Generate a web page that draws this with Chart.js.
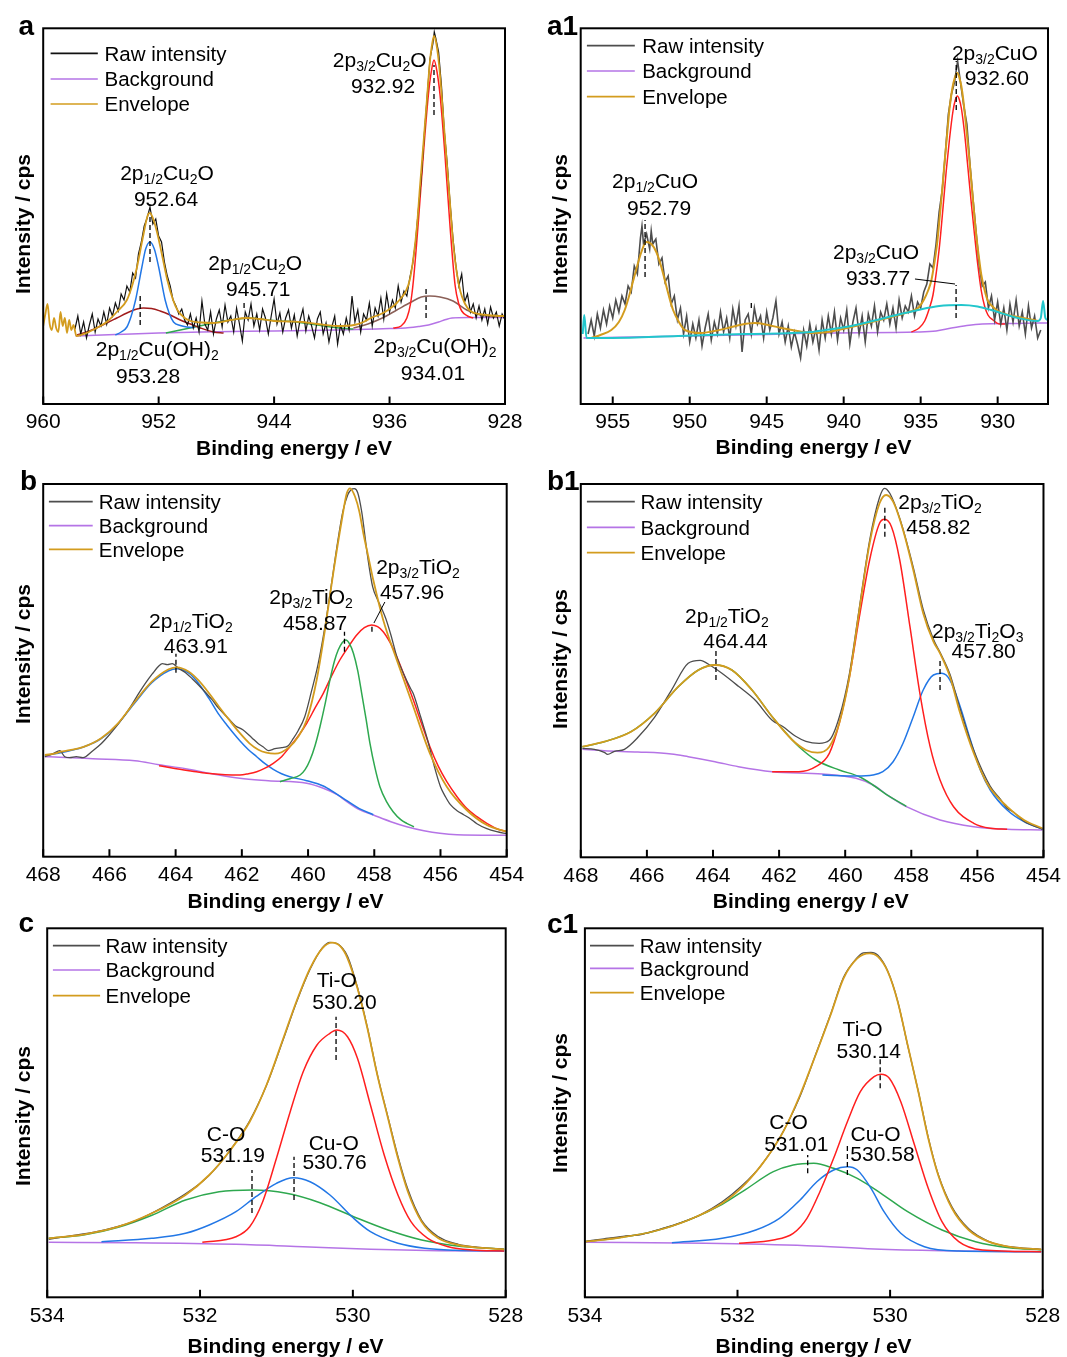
<!DOCTYPE html>
<html><head><meta charset="utf-8">
<script src="https://cdn.jsdelivr.net/npm/chart.js@4.4.1/dist/chart.umd.min.js"></script>
<style>
html,body{margin:0;padding:0;background:#fff;}
body{width:1067px;height:1357px;position:relative;overflow:hidden;}
canvas{position:absolute;}
</style></head><body>
<script>
// ---------- texts ----------
const legendLabels = ["Raw intensity", "Background", "Envelope"];
const xTitle = "Binding energy / eV";
const yTitle = "Intensity / cps";

// ---------- tick labels ----------
const aTicks = [960, 952, 944, 936, 928];
const a1Ticks = [955, 950, 945, 940, 935, 930];
const bTicks = [468, 466, 464, 462, 460, 458, 456, 454];
const cTicks = [534, 532, 530, 528];

// ---------- panel a : Cu 2p ----------
const aRaw = [[957.8,75],[957.6,88],[957.4,70],[957.2,82],[957.0,66],[956.8,79],[956.6,90],[956.4,72],[956.2,85],[956.0,78],[955.8,92],[955.6,80],[955.4,96],[955.2,88],[955.0,101],[954.8,93],[954.6,110],[954.4,104],[954.2,118],[954.0,112],[953.8,131],[953.6,126],[953.4,150],[953.2,162],[953.0,178],[952.8,186],[952.6,197],[952.4,180],[952.2,185],[952.0,168],[951.8,162],[951.6,142],[951.4,128],[951.2,118],[951.0,104],[950.8,98],[950.6,90],[950.4,95],[950.2,84],[950.0,79],[949.8,90],[949.6,76],[949.4,86],[949.2,72],[949.0,103],[948.8,80],[948.6,74],[948.4,92],[948.2,70],[948.0,85],[947.8,94],[947.6,77],[947.4,99],[947.2,82],[947.0,88],[946.8,72],[946.6,96],[946.4,80],[946.2,63],[946.0,92],[945.8,84],[945.6,100],[945.4,78],[945.2,90],[945.0,74],[944.8,95],[944.6,86],[944.4,70],[944.2,88],[944.0,105],[943.8,80],[943.6,91],[943.4,72],[943.2,86],[943.0,94],[942.8,76],[942.6,89],[942.4,68],[942.2,84],[942.0,95],[941.8,73],[941.6,88],[941.4,78],[941.2,66],[941.0,85],[940.8,92],[940.6,70],[940.4,81],[940.2,62],[940.0,77],[939.8,88],[939.6,60],[939.4,79],[939.2,70],[939.0,86],[938.8,74],[938.6,108],[938.4,82],[938.2,94],[938.0,72],[937.8,90],[937.6,84],[937.4,101],[937.2,78],[937.0,96],[936.8,88],[936.6,106],[936.4,85],[936.2,110],[936.0,92],[935.8,104],[935.6,96],[935.4,118],[935.2,102],[935.0,113],[934.8,108],[934.6,126],[934.4,140],[934.2,162],[934.0,195],[933.8,226],[933.6,268],[933.4,306],[933.2,345],[933.0,360],[932.9,372],[932.8,366],[932.6,352],[932.4,318],[932.2,272],[932.0,240],[931.8,200],[931.6,165],[931.4,138],[931.2,118],[931.0,130],[930.8,102],[930.6,110],[930.4,92],[930.2,100],[930.0,86],[929.8,98],[929.6,84],[929.4,95],[929.2,80],[929.0,97],[928.8,86],[928.6,92],[928.4,78],[928.2,90],[928.0,84]];
const aBackground = [[957.75,68],[955,69.5],[952,71],[949,72],[944,73],[939.6,74],[936,75.5],[934.9,76],[934,77.5],[933.3,79],[932.6,82],[932.1,84.5],[931.67,86],[930.5,86.5],[928,86.5]];
const aEnvelope = [[960,78],[959.85,90],[959.7,100],[959.55,80],[959.4,74],[959.25,86],[959.1,76],[958.95,72],[958.8,92],[958.65,78],[958.5,86],[958.35,71],[958.2,84],[958.05,74],[957.9,79],[957.7,68],[957,71],[956.3,76],[955.6,82],[954.9,92],[954.2,104],[953.8,120],[953.5,137],[953.1,166],[952.75,189],[952.6,191],[952.4,186],[952.1,171],[951.75,148],[951.4,124],[951,104],[950.7,94],[950.2,86],[949.8,83],[949,81.5],[948.2,81],[947,84],[945.9,86],[945,85],[944,83],[943,82.5],[942,82],[941,80],[939.6,78],[938.45,79],[937.8,82],[937.3,86],[936.6,90],[936.1,94],[935.5,101],[935.2,106],[934.9,112],[934.6,124],[934.35,146],[934.1,178],[933.9,216],[933.66,259],[933.42,303],[933.2,343],[933.05,360],[932.92,368],[932.78,362],[932.62,346],[932.45,320],[932.27,286],[932.04,243],[931.8,199],[931.58,159],[931.35,132],[931.1,113],[930.8,101],[930.4,93],[929.8,90],[929.27,89],[928.2,88],[928,88]];
const aCu2O32 = [[935.74,76],[935.2,78],[934.8,86],[934.55,100],[934.35,123],[934.0,183],[933.66,249],[933.31,309],[933.1,333],[932.92,344],[932.72,333],[932.5,309],[932.16,249],[931.8,176],[931.46,119],[931.2,100],[931.0,93],[930.6,88],[930.2,86]];
const aCuOH32 = [[938.5,76],[937.5,80],[936.5,86],[935.5,94],[934.5,102],[933.8,107],[933.2,108],[932.5,107],[931.6,103],[930.65,94],[929.7,89],[929,87.5],[928.5,87]];
const aCu2O12 = [[955.0,69],[954.6,72],[954.2,77],[953.9,88],[953.6,104],[953.16,137],[952.9,155],[952.6,162],[952.3,155],[952.0,137],[951.55,104],[951.25,90],[950.97,82],[950.5,78.5],[950.05,77],[949.5,76.5]];
const aCuOH12 = [[957.67,69],[956.8,73],[955.6,81],[954.9,86],[954.2,91],[953.5,95],[953.05,96],[952.5,95.5],[951.9,93],[951.2,89],[950.5,84],[949.8,80],[949.1,76],[948.2,72],[947.5,71]];
const aSat = [[951.5,71],[950.5,74],[949.5,77],[948.5,80],[947.5,83],[946.5,85],[945.7,86],[944.5,84],[943.5,83],[942.5,82],[941.5,80],[940.5,78],[939.5,76],[938.5,75]];

// ---------- panel a1 : Cu 2p ----------
const a1Raw = [[956.6,70],[956.4,84],[956.2,68],[956.0,90],[955.8,76],[955.6,94],[955.4,80],[955.2,98],[955.0,86],[954.8,104],[954.6,92],[954.4,108],[954.2,100],[954.0,118],[953.8,112],[953.6,138],[953.4,130],[953.2,166],[953.1,178],[953.0,160],[952.8,170],[952.6,155],[952.5,173],[952.4,160],[952.2,165],[952.0,140],[951.8,146],[951.6,122],[951.4,128],[951.2,100],[951.0,108],[950.8,84],[950.6,96],[950.4,70],[950.2,88],[950.0,62],[949.8,80],[949.6,66],[949.4,84],[949.2,58],[949.0,76],[948.8,90],[948.6,64],[948.4,82],[948.2,70],[948.0,92],[947.8,72],[947.6,86],[947.4,66],[947.2,95],[947.0,78],[946.8,98],[946.6,52],[946.4,84],[946.2,90],[946.0,70],[945.8,96],[945.6,80],[945.4,88],[945.2,66],[945.0,92],[944.8,74],[944.6,86],[944.4,103],[944.2,70],[944.0,82],[943.8,62],[943.6,78],[943.4,57],[943.2,72],[943.0,60],[942.8,46],[942.6,74],[942.4,58],[942.2,80],[942.0,62],[941.8,76],[941.6,54],[941.4,84],[941.2,66],[941.0,88],[940.8,70],[940.6,92],[940.4,64],[940.2,86],[940.0,74],[939.8,94],[939.6,60],[939.4,82],[939.2,96],[939.0,70],[938.8,88],[938.6,62],[938.4,90],[938.2,78],[938.0,98],[937.8,72],[937.6,92],[937.4,84],[937.2,100],[937.0,80],[936.8,96],[936.6,76],[936.4,104],[936.2,86],[936.0,98],[935.8,92],[935.6,108],[935.4,88],[935.2,102],[935.0,96],[934.8,112],[934.6,120],[934.4,140],[934.2,136],[934.0,160],[933.8,192],[933.6,214],[933.4,250],[933.2,290],[933.0,310],[932.8,322],[932.6,343],[932.4,320],[932.2,298],[932.0,280],[931.8,240],[931.6,205],[931.4,172],[931.2,140],[931.0,118],[930.8,122],[930.6,96],[930.4,108],[930.2,84],[930.0,102],[929.8,80],[929.6,96],[929.4,74],[929.2,100],[929.0,82],[928.8,104],[928.6,78],[928.4,92],[928.2,70],[928.0,98],[927.8,76],[927.6,88],[927.4,66],[927.2,74]];
const a1Background = [[956.9,66],[950,68],[945,69.5],[941.5,71],[935.2,72],[934,73],[933,76],[932,78.5],[931,80],[929,80.5],[927.4,81],[926.75,81]];
const a1Envelope = [[956.39,66],[955.8,69],[955.09,74],[954.6,82],[954.22,94],[953.9,110],[953.57,129],[953.14,152],[952.82,162],[952.49,160],[952.17,152],[951.9,140],[951.62,124],[951.35,108],[951.08,94],[950.7,82],[950.32,74],[949.25,71],[948.4,73],[947.51,76],[946.6,79.5],[945.78,81],[944.9,79],[944.05,76],[943,73],[942.1,71],[941,72],[939.5,77],[937.3,85.5],[936,91],[935.17,96],[934.8,104],[934.53,113],[934.3,124],[934.09,143],[933.92,162],[933.77,186],[933.6,214],[933.44,243],[933.28,270],[933.12,296],[932.95,315],[932.79,326],[932.62,331],[932.5,327],[932.36,318],[932.2,300],[932.04,276],[931.87,250],[931.71,223],[931.55,195],[931.39,169],[931.22,147],[931.06,129],[930.85,114],[930.63,103],[930.3,97],[929.98,93],[929.3,89],[928.68,87],[928,85],[927.38,83]];
const a1CuO32 = [[935.6,72],[935.1,76],[934.74,83],[934.45,95],[934.2,109],[933.98,132],[933.77,159],[933.55,196],[933.34,233],[933.12,266],[932.9,293],[932.75,304],[932.62,308],[932.48,304],[932.36,296],[932.15,271],[931.93,236],[931.72,202],[931.5,169],[931.28,138],[931.06,113],[930.85,98],[930.63,89],[930.3,84],[929.87,80],[929.5,80]];
const a1CuO32b = [[956.95,70],[956.85,89],[956.7,66],[956.5,66],[955.1,66],[950.76,68],[946.43,70],[942.1,72],[941.67,73],[939.5,78],[937.34,86],[935.17,94],[933.8,98],[932.36,99],[931.3,97.5],[930.42,94],[928.68,86],[927.4,83],[927.2,86],[927.05,103],[926.9,86],[926.75,84]];

// ---------- panel b : Ti 2p ----------
const bRaw = [[467.95,100],[467.7,103],[467.5,106],[467.35,100],[467.2,99],[467.0,100],[466.8,99],[466.5,106],[466.25,113],[466.0,122],[465.7,134],[465.4,148],[465.1,164],[464.9,174],[464.7,183],[464.5,191],[464.4,193],[464.25,192],[464.1,193],[463.9,188],[463.7,184],[463.5,178],[463.2,168],[462.9,157],[462.69,148],[462.4,138],[462.2,131],[461.97,127],[461.7,119],[461.5,113],[461.36,110],[461.2,106],[461.0,108],[460.8,109],[460.6,111],[460.45,118],[460.3,126],[460.1,140],[459.9,165],[459.7,192],[459.5,228],[459.3,271],[459.1,316],[458.95,345],[458.8,362],[458.7,367],[458.6,368],[458.5,364],[458.38,345],[458.2,300],[458.05,270],[457.9,257],[457.8,250],[457.65,238],[457.5,222],[457.3,198],[457.1,182],[456.9,168],[456.82,163],[456.6,140],[456.4,118],[456.2,92],[456.0,70],[455.85,60],[455.7,52],[455.5,46],[455.3,42],[455.1,38],[454.9,33],[454.6,28],[454.3,25],[454.0,23]];
const bBackground = [[467.95,100],[467.5,99.5],[466.5,98],[465.23,96],[464.5,92],[463.7,88],[462.9,83],[462.06,78.4],[461.2,76],[460.04,73.4],[459.54,68.4],[459.12,62],[458.83,55],[458.45,47],[458.03,41.7],[457.5,35],[457.02,30],[456.5,26],[456.02,23.4],[455.5,22],[454.0,21.5]];
const bEnvelope = [[467.95,101.7],[467.6,103.5],[467.47,105],[467.2,106.5],[466.76,110],[466.25,118.4],[465.74,133.4],[465.23,155],[464.72,175],[464.21,187.4],[463.96,189.4],[463.6,185],[463.3,176],[462.99,163.4],[462.69,150],[462.38,136.7],[462.07,124],[461.77,113.4],[461.5,107],[461.26,104],[461.0,103],[460.8,104.5],[460.55,110],[460.3,120],[460.04,136.7],[459.74,176.7],[459.49,226.7],[459.24,283.4],[458.98,336.7],[458.83,363.4],[458.73,368.4],[458.58,360],[458.45,345],[458.33,323.4],[458.18,300],[458.03,276.7],[457.73,236.7],[457.32,196.7],[456.82,150],[456.32,103.4],[455.81,70],[455.21,46.7],[454.6,31.7],[454.0,25]];
const bTiO2_12 = [[467.95,101],[467.2,106],[466.76,110],[466.25,118],[465.74,133],[465.23,154],[464.72,174],[464.21,186],[463.96,188],[463.6,183.5],[463.3,173],[462.99,158],[462.69,142],[462.46,132],[462.06,116],[461.8,107],[461.55,100],[461.3,93],[461.05,87.4],[460.8,83],[460.55,80],[460.04,76],[459.54,70.7],[459.2,64],[458.83,56],[458.45,48],[458.03,42]];
const bTiO2_32a = [[460.85,75],[460.55,78],[460.24,81.7],[460.09,87],[459.94,96.7],[459.79,111],[459.64,130],[459.49,152],[459.34,176.7],[459.2,196],[459.09,206.7],[458.97,214],[458.86,216.7],[458.75,213],[458.63,203.4],[458.5,186],[458.38,163.4],[458.25,138],[458.13,113.4],[457.98,89],[457.83,70],[457.63,55],[457.43,45],[457.2,37],[457.02,33.4],[456.8,30]];
const bTiO2_32b = [[464.5,91],[464.07,88.4],[463.5,85.5],[463.06,83.4],[462.5,82],[462.06,81.7],[461.8,83],[461.55,85],[461.3,88.5],[461.05,93.4],[460.8,100],[460.55,110],[460.3,120.5],[460.04,133.4],[459.8,148],[459.54,163.4],[459.3,180],[459.04,196.7],[458.78,210],[458.53,221.7],[458.3,229],[458.08,231.7],[457.9,230],[457.73,225],[457.52,214],[457.32,200],[457.07,179],[456.82,156.7],[456.57,133],[456.32,110],[456.06,90],[455.81,75],[455.5,60],[455.21,48.4],[454.9,40],[454.6,33.4],[454.3,28],[454.0,25]];

// ---------- panel b1 : Ti 2p ----------
const b1Raw = [[467.95,109],[467.59,108],[467.29,105],[467.19,103],[466.98,106],[466.68,108],[466.27,120],[465.77,140],[465.26,167],[464.75,194],[464.39,197],[464.04,191],[463.73,184],[463.23,171],[462.72,157],[462.21,137],[461.9,131],[461.5,121],[461.19,116],[460.79,114],[460.48,117],[460.18,140],[459.87,184],[459.57,250],[459.26,317],[458.96,360],[458.81,369],[458.65,364],[458.35,339],[457.94,290],[457.64,248],[457.33,218],[457.13,205],[456.83,183],[456.52,148],[456.11,107],[455.61,71],[455.3,58],[455.1,49],[454.9,45],[454.59,36],[454.03,28]];
const b1Background = [[467.95,108],[467.29,106.6],[466.27,105.3],[465.26,103.3],[464.75,100.6],[463.94,95.6],[463.23,90.6],[462.21,85.6],[460.69,83.3],[459.67,79],[459.16,72.3],[458.65,60.6],[458.15,50.6],[457.13,37.3],[456.11,30.6],[455.1,28],[454.03,27.3]];
const b1Envelope = [[467.95,110.6],[467.29,115.6],[466.48,125.6],[465.77,144],[465.05,170.6],[464.44,187.3],[463.94,192.3],[463.43,187.3],[462.82,167.3],[462.21,140.6],[461.6,117.3],[461.19,107.3],[460.84,104.6],[460.48,110.6],[460.18,134],[459.87,180.6],[459.57,247.3],[459.26,314],[458.96,354],[458.76,362.3],[458.55,355.6],[458.25,327.3],[457.94,287.3],[457.64,244],[457.33,215.6],[457.13,204],[456.83,180.6],[456.52,144],[456.11,104],[455.71,74],[455.1,50.6],[454.59,37.3],[454.03,29]];
const b1TiO2_12 = [[467.95,110.6],[467.29,115.6],[466.48,125.6],[465.77,144],[465.05,170.6],[464.44,187.3],[463.94,192.3],[463.43,187.3],[462.82,167.3],[462.21,140.6],[461.6,117.3],[461.4,110.6],[460.89,97.3],[460.18,87.3],[459.57,80.6],[459.16,72.3],[458.65,60.6],[458.15,51]];
const b1TiO2_32 = [[462.21,85.6],[461.4,85.6],[460.89,90.6],[460.48,104],[460.18,134],[459.87,180.6],[459.57,240.6],[459.26,297.3],[458.96,334],[458.81,338],[458.6,330.6],[458.35,297.3],[458.04,230.6],[457.74,164],[457.43,110.6],[457.13,77.3],[456.72,50.6],[456.11,34],[455.61,29],[455.1,28]];
const b1Ti2O3 = [[460.69,82.3],[459.67,81.3],[459.16,82.3],[458.86,85.6],[458.55,95.6],[458.25,114],[457.94,140.6],[457.64,167.3],[457.33,182.3],[457.08,184],[456.83,177.3],[456.52,150.6],[456.21,117.3],[455.91,87.3],[455.61,67.3],[455.1,47.3],[454.59,35.6],[454.03,28.3]];

// ---------- panel c : O 1s ----------
const cRaw = [[533.98,58],[533.7,61.5],[533.4,65],[533.07,71],[532.8,78],[532.5,89.5],[532.19,103.5],[531.95,117],[531.75,133],[531.55,153],[531.35,176.5],[531.13,212],[530.91,258],[530.74,294.5],[530.56,328],[530.4,349.5],[530.3,355],[530.2,353.5],[530.07,341],[529.94,310],[529.81,270],[529.68,223],[529.54,180],[529.41,141],[529.28,108],[529.1,77],[528.88,60.5],[528.62,53],[528.35,50],[528.02,48]];
const cBackground = [[533.98,55],[532.85,54.6],[531.53,53],[530.65,50.6],[529.77,48],[528.88,46.6],[528.02,46.3]];
const cEnvelope = [[533.98,59],[533.51,63],[533.07,70.6],[532.63,84],[532.19,102.3],[531.88,122.3],[531.62,145.6],[531.35,175.6],[531.13,212.3],[530.91,259],[530.74,295.6],[530.56,329],[530.4,349],[530.27,354.6],[530.16,350.6],[530.07,339],[529.94,309],[529.81,269],[529.68,222.3],[529.54,179],[529.41,139],[529.28,105.6],[529.1,75.6],[528.88,59],[528.62,52.3],[528.35,49.6],[528.02,48]];
const cTiO = [[531.97,55],[531.53,60.6],[531.35,70.6],[531.18,95.6],[531.0,139],[530.82,185.6],[530.65,225.6],[530.47,252.3],[530.3,264],[530.21,267.3],[530.07,260.6],[529.94,239],[529.77,192.3],[529.59,142.3],[529.41,102.3],[529.24,75.6],[529.02,59],[528.75,50.6],[528.44,47.3],[528.02,46.3]];
const cCuO = [[533.29,55.6],[532.63,59],[532.19,64],[531.88,72.3],[531.53,85.6],[531.27,100.6],[531.0,114],[530.78,119.6],[530.56,115.6],[530.3,102.3],[529.99,79],[529.77,65.6],[529.41,54],[529.06,49],[528.66,47],[528.02,46.3]];
const cCO = [[533.98,59],[533.51,62.5],[533.07,70],[532.63,82],[532.19,97.3],[531.75,105.6],[531.31,107.3],[530.87,104],[530.43,94.6],[529.99,80.6],[529.54,67.3],[529.1,57.3],[528.66,51.6],[528.02,48]];

// ---------- panel c1 : O 1s ----------
const c1Raw = [[533.99,56],[533.75,58.5],[533.5,61],[533.25,63],[533.0,68.5],[532.75,74.5],[532.5,82],[532.2,95.5],[531.95,111],[531.7,131],[531.45,159],[531.18,201],[530.96,246],[530.78,283],[530.61,320],[530.45,338],[530.35,344.5],[530.25,345],[530.16,342],[530.03,326],[529.9,296],[529.77,252],[529.63,206],[529.5,160],[529.37,123],[529.19,90.5],[528.97,68.5],[528.71,56],[528.5,51.5],[528.35,50],[528.02,48]];
const c1Background = [[533.99,55],[532.42,54],[531.09,51.6],[530.21,48.3],[529.32,46.6],[528.02,45.6]];
const c1Envelope = [[533.99,55.6],[533.52,60],[533.08,66.3],[532.64,77.3],[532.2,94],[531.89,114],[531.62,139],[531.4,165.6],[531.18,202.3],[530.96,245.6],[530.78,282.3],[530.61,319],[530.43,339],[530.27,344],[530.16,340.6],[530.03,325.6],[529.9,295.6],[529.77,252.3],[529.63,205.6],[529.5,159],[529.37,122.3],[529.19,89],[528.97,67.3],[528.71,55.6],[528.35,49.6],[528.02,48]];
const c1TiO = [[531.98,54],[531.53,57.3],[531.27,64],[531.09,79],[530.92,105.6],[530.74,139],[530.56,175.6],[530.39,205.6],[530.21,220.6],[530.12,223],[530.01,219],[529.86,195.6],[529.68,152.3],[529.5,109],[529.32,75.6],[529.1,55.6],[528.79,47.3],[528.02,45.6]];
const c1CuO = [[532.86,54.6],[532.2,59],[531.76,67.3],[531.45,79],[531.18,97.3],[530.96,115.6],[530.74,127.3],[530.56,130.6],[530.43,127.3],[530.25,109],[530.08,85.6],[529.86,64],[529.55,50.6],[529.1,46.3],[528.02,45.6]];
const c1CO = [[533.99,55.6],[533.52,60],[533.08,66.3],[532.64,77.3],[532.2,93],[531.89,108],[531.53,125.6],[531.27,132.3],[531.0,134],[530.74,129],[530.43,119],[530.12,104],[529.77,85.6],[529.32,67.3],[528.88,55.6],[528.44,49.6],[528.02,47.3]];

// ---------- styles ----------
const FONT = '"Liberation Sans", Arial, Helvetica, sans-serif';
const COL = {raw:'#111111', gray:'#4d4d4d', bg:'#b574e6', env:'#d39c1e', red:'#ff1f1f', blue:'#2277e6',
  green:'#2ea84f', brown:'#8b6058', darkred:'#a01c1c', cyan:'#22c6cc'};

const panels = [
 {id:'a', letter:'a', canvas:[0,0,537,462], frame:[43.2,28.3,505,404], xr:[928,960], ticks:aTicks, rawColor:COL.raw,
  series:[{d:aBackground,c:COL.bg},{d:aSat,c:COL.green},{d:aCuOH12,c:COL.darkred},{d:aCu2O12,c:COL.blue},{d:aCuOH32,c:COL.brown},{d:aCu2O32,c:COL.red},{d:aRaw,c:COL.raw,raw:true,w:1.2},{d:aEnvelope,c:COL.env,w:1.8}],
  legend:{line:[50.6,97.8], text:104.5, rows:[53.3,79,104]}, letterPos:[18.5,35], xTitle:[294,447], yTitle:[22.8,224],
  notes:[["2p_{1/2}Cu_{2}O",951.42,232],["952.64",951.49,206],["2p_{1/2}Cu_{2}O",945.31,142],["945.71",945.1,116],["2p_{1/2}Cu(OH)_{2}",952.1,56],["953.28",952.73,29],["2p_{3/2}Cu_{2}O",936.68,345],["932.92",936.45,319],["2p_{3/2}Cu(OH)_{2}",932.85,59],["934.01",932.99,32]],
  dashes:[[952.6,142,188],[946.08,96,102],[953.28,79,111],[932.92,289,339],[933.47,86,117]], leaders:[]},
 {id:'a1', letter:'a1', canvas:[537,0,530,462], frame:[580.7,28.3,1048,404], xr:[926.73,957.08], ticks:a1Ticks, rawColor:COL.gray,
  series:[{d:a1Background,c:COL.bg},{d:a1CuO32,c:COL.red},{d:a1Raw,c:COL.gray,raw:true,w:1.6},{d:a1Envelope,c:COL.env,w:2},{d:a1CuO32b,c:COL.cyan,w:2}],
  legend:{line:[586.9,634.8], text:642.2, rows:[45.7,71,96.7]}, letterPos:[547,35], xTitle:[813.5,446.7], yTitle:[559.8,224],
  notes:[["2p_{1/2}CuO",952.25,224],["952.79",951.99,197],["2p_{3/2}CuO",930.18,352],["932.60",930.05,327],["2p_{3/2}CuO",937.9,153],["933.77",937.77,127]],
  dashes:[[952.9,127,184],[932.69,294,343],[932.7,86,119],[946.0,96,102]], leaders:[[[935.37,125],[932.77,120]]]},
 {id:'b', letter:'b', canvas:[0,462,537,451], frame:[43.2,484,506.7,856.7], xr:[454,468], ticks:bTicks, rawColor:COL.gray,
  series:[{d:bBackground,c:COL.bg},{d:bTiO2_12,c:COL.blue},{d:bTiO2_32b,c:COL.red},{d:bTiO2_32a,c:COL.green},{d:bRaw,c:COL.gray,w:1.3},{d:bEnvelope,c:COL.env,w:1.8}],
  legend:{line:[48.9,92.7], text:98.8, rows:[501.7,525.7,549.3]}, letterPos:[20,490], xTitle:[285.6,900], yTitle:[22.8,654],
  notes:[["2p_{1/2}TiO_{2}",463.54,236.7],["463.91",463.39,211.7],["2p_{3/2}TiO_{2}",459.91,260],["458.87",459.79,234],["2p_{3/2}TiO_{2}",456.68,290],["457.96",456.86,265.7]],
  dashes:[[463.99,184,203],[458.9,205,225],[458.07,225,233]], leaders:[[[457.68,254.7],[458.01,233.7]]]},
 {id:'b1', letter:'b1', canvas:[537,462,530,451], frame:[580.8,484,1045.4,857.3], xr:[454,468], ticks:bTicks, rawColor:COL.gray,
  series:[{d:b1Background,c:COL.bg},{d:b1TiO2_12,c:COL.green},{d:b1Ti2O3,c:COL.blue},{d:b1TiO2_32,c:COL.red},{d:b1Raw,c:COL.gray,w:1.3},{d:b1Envelope,c:COL.env,w:1.8}],
  legend:{line:[586.9,634.8], text:640.5, rows:[501.7,527.3,552.7]}, letterPos:[547,490], xTitle:[810.8,900], yTitle:[559.8,659],
  notes:[["2p_{3/2}TiO_{2}",457.13,355.6],["458.82",457.18,330.6],["2p_{1/2}TiO_{2}",463.58,242.3],["464.44",463.32,217.3],["2p_{3/2}Ti_{2}O_{3}",455.99,227.3],["457.80",455.81,206.6]],
  dashes:[[458.8,320.6,352.3],[463.91,177.3,207.3],[457.13,167.3,199]], leaders:[]},
 {id:'c', letter:'c', canvas:[0,910,537,450], frame:[47.2,928.3,505.7,1297.3], xr:[528,534], ticks:cTicks, rawColor:COL.gray,
  series:[{d:cBackground,c:COL.bg},{d:cCO,c:COL.green},{d:cCuO,c:COL.blue},{d:cTiO,c:COL.red},{d:cRaw,c:COL.gray,w:1.3},{d:cEnvelope,c:COL.env,w:1.8}],
  legend:{line:[52.9,100.1], text:105.5, rows:[945.7,970,995.7]}, letterPos:[18.5,932], xTitle:[285.6,1345.7], yTitle:[22.8,1116],
  notes:[["Ti-O",530.21,318.3],["530.20",530.11,295.6],["C-O",531.66,164],["531.19",531.57,143],["Cu-O",530.25,155],["530.76",530.24,135.6]],
  dashes:[[530.22,237.3,280.6],[531.32,84.3,127.3],[530.77,97.3,140.6]], leaders:[]},
 {id:'c1', letter:'c1', canvas:[537,910,530,450], frame:[584.9,928.3,1042.7,1297.3], xr:[528,534], ticks:cTicks, rawColor:COL.gray,
  series:[{d:c1Background,c:COL.bg},{d:c1CO,c:COL.green},{d:c1CuO,c:COL.blue},{d:c1TiO,c:COL.red},{d:c1Raw,c:COL.gray,w:1.3},{d:c1Envelope,c:COL.env,w:1.8}],
  legend:{line:[590,633.8], text:639.8, rows:[945.7,968.3,992.7]}, letterPos:[547,933], xTitle:[813.6,1345], yTitle:[559.8,1103],
  notes:[["Ti-O",530.36,269],["530.14",530.28,247.3],["C-O",531.33,175.6],["531.01",531.23,154],["Cu-O",530.19,164],["530.58",530.1,144]],
  dashes:[[530.13,209,239],[531.08,124,142.3],[530.56,122.3,152.3]], leaders:[]}
];

function richText(ctx, str, cx, cy, size) {
  const parts = []; const re = /_\{([^}]*)\}/g; let last = 0, m;
  while ((m = re.exec(str))) {
    if (m.index > last) parts.push({t:str.slice(last, m.index), s:false});
    parts.push({t:m[1], s:true}); last = re.lastIndex;
  }
  if (last < str.length) parts.push({t:str.slice(last), s:false});
  const sub = Math.round(size * 0.67);
  let w = 0;
  parts.forEach(p => { ctx.font = (p.s ? sub : size) + 'px ' + FONT; p.w = ctx.measureText(p.t).width; w += p.w; });
  let x = cx - w / 2; const base = cy + size * 0.36;
  ctx.textAlign = 'left'; ctx.textBaseline = 'alphabetic';
  parts.forEach(p => { ctx.font = (p.s ? sub : size) + 'px ' + FONT; ctx.fillText(p.t, x, p.s ? base + size * 0.2 : base); x += p.w; });
}

function decor(P) {
  return { id: 'decor_' + P.id,
    afterDatasetsDraw(chart) {
      const ctx = chart.ctx, ca = chart.chartArea, xs = chart.scales.x, ys = chart.scales.y;
      const ox = P.canvas[0], oy = P.canvas[1];
      ctx.save();
      ctx.strokeStyle = '#000'; ctx.lineWidth = 1.3; ctx.setLineDash([5, 3]);
      P.dashes.forEach(([e, v1, v2]) => { const x = xs.getPixelForValue(e); ctx.beginPath(); ctx.moveTo(x, ys.getPixelForValue(v1)); ctx.lineTo(x, ys.getPixelForValue(v2)); ctx.stroke(); });
      ctx.setLineDash([]); ctx.lineWidth = 1;
      P.leaders.forEach(pts => { ctx.beginPath(); pts.forEach(([e, v], i) => { const X = xs.getPixelForValue(e), Y = ys.getPixelForValue(v); if (i) ctx.lineTo(X, Y); else ctx.moveTo(X, Y); }); ctx.stroke(); });
      ctx.fillStyle = '#000';
      P.notes.forEach(([t, e, v]) => richText(ctx, t, xs.getPixelForValue(e), ys.getPixelForValue(v), 21));
      ctx.lineWidth = 2; ctx.strokeStyle = '#000';
      ctx.strokeRect(ca.left, ca.top, ca.right - ca.left, ca.bottom - ca.top);
      P.ticks.forEach(t => { const x = xs.getPixelForValue(t); ctx.beginPath(); ctx.moveTo(x, ca.bottom); ctx.lineTo(x, ca.bottom - 7.5); ctx.stroke(); });
      const L = P.legend, cols = [P.rawColor, COL.bg, COL.env];
      legendLabels.forEach((lab, i) => {
        const y = L.rows[i] - oy;
        ctx.strokeStyle = cols[i]; ctx.lineWidth = 1.7;
        ctx.beginPath(); ctx.moveTo(L.line[0] - ox, y); ctx.lineTo(L.line[1] - ox, y); ctx.stroke();
        ctx.fillStyle = '#000'; ctx.font = '20.5px ' + FONT; ctx.textAlign = 'left'; ctx.textBaseline = 'alphabetic';
        ctx.fillText(lab, L.text - ox, y + 20.5 * 0.36);
      });
      ctx.fillStyle = '#000'; ctx.textAlign = 'left'; ctx.textBaseline = 'alphabetic';
      ctx.font = 'bold 28px ' + FONT; ctx.fillText(P.letter, P.letterPos[0] - ox, P.letterPos[1] - oy);
      ctx.font = 'bold 21px ' + FONT; ctx.textAlign = 'center';
      ctx.fillText(xTitle, P.xTitle[0] - ox, P.xTitle[1] - oy + 21 * 0.36);
      ctx.save(); ctx.translate(P.yTitle[0] - ox, P.yTitle[1] - oy); ctx.rotate(-Math.PI / 2);
      ctx.fillText(yTitle, 0, 21 * 0.36); ctx.restore();
      ctx.restore();
    }
  };
}

function makeChart(P) {
  const [cl, ct, cw, chh] = P.canvas; const [fl, ft, fr, fb] = P.frame;
  const cv = document.createElement('canvas');
  cv.width = cw; cv.height = chh;
  cv.style.left = cl + 'px'; cv.style.top = ct + 'px'; cv.style.width = cw + 'px'; cv.style.height = chh + 'px';
  document.body.appendChild(cv);
  const datasets = P.series.slice().reverse().map(s => ({
    data: s.d.map(([x, y]) => ({x, y})), borderColor: s.c, borderWidth: s.w || 1.5,
    pointRadius: 0, fill: false, tension: s.raw ? 0 : 0.4, cubicInterpolationMode: s.raw ? 'default' : 'monotone'
  }));
  new Chart(cv, {
    type: 'line', data: {datasets},
    options: {
      responsive: false, animation: false, devicePixelRatio: 1, events: [],
      layout: {padding: {left: fl - cl, top: ft - ct, right: cl + cw - fr, bottom: 0}},
      plugins: {legend: {display: false}, tooltip: {enabled: false}},
      scales: {
        x: {type: 'linear', min: P.xr[0], max: P.xr[1], reverse: true,
            afterBuildTicks: s => { s.ticks = P.ticks.map(v => ({value: v})); },
            afterFit: s => { s.height = ct + chh - fb; },
            grid: {display: false, drawTicks: false}, border: {display: false},
            ticks: {autoSkip: false, maxRotation: 0, minRotation: 0, padding: 6, color: '#000',
                    font: {family: FONT, size: 21}, callback: v => String(v)}},
        y: {display: false, min: 0, max: fb - ft}
      }
    },
    plugins: [decor(P)]
  });
}
panels.forEach(makeChart);
</script>
</body></html>
